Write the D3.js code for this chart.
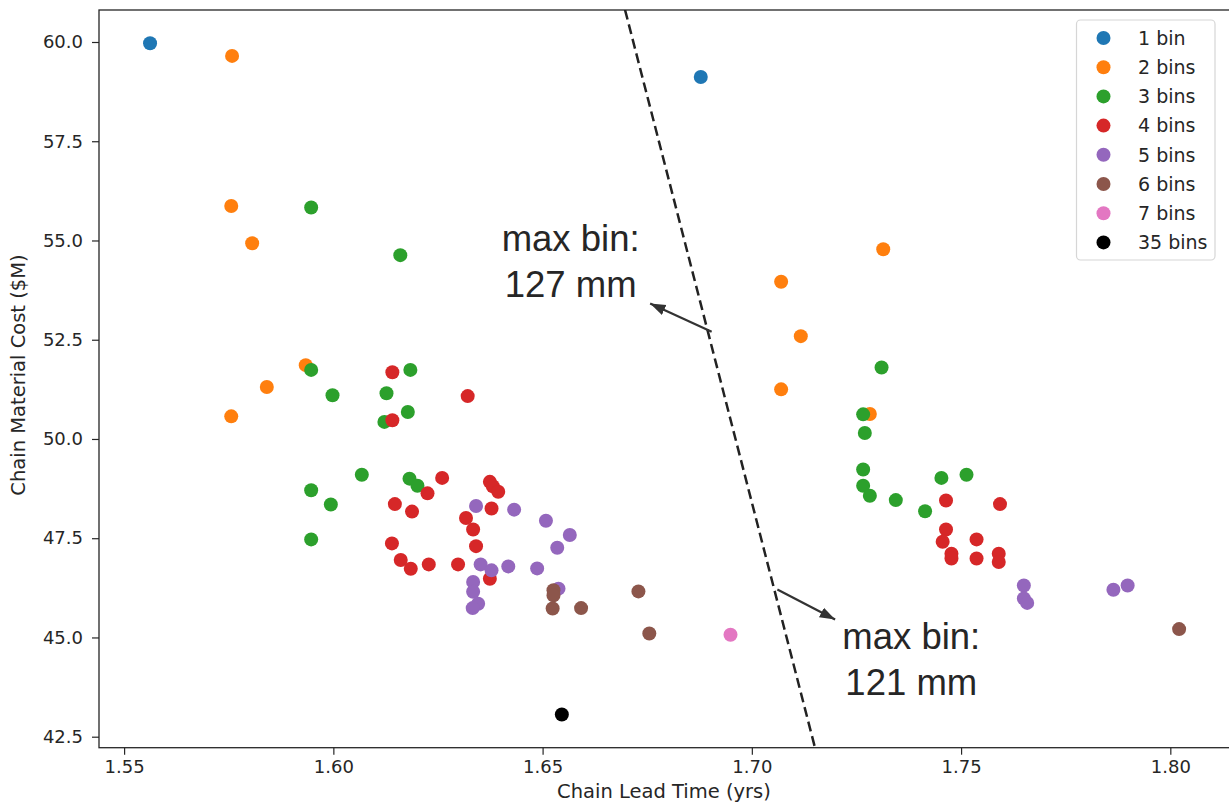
<!DOCTYPE html>
<html>
<head>
<meta charset="utf-8">
<script src="https://cdn.jsdelivr.net/npm/d3@7"></script>
<style>
  html, body { margin: 0; padding: 0; background: #fff; }
  svg { display: block; }
  .tick text { font-family: "DejaVu Sans", sans-serif; font-size: 18px; fill: #262626; }
</style>
</head>
<body>
<svg id="chart" width="1229" height="809"></svg>
<script>
// Chain lead time (yrs) vs chain material cost ($M), grouped by number of bins
const seriesLabels = ["1 bin", "2 bins", "3 bins", "4 bins", "5 bins", "6 bins", "7 bins", "35 bins"];
const seriesColors = ["#1f77b4", "#ff7f0e", "#2ca02c", "#d62728", "#9467bd", "#8c564b", "#e377c2", "#000000"];

const bins1 = [[1.5562, 59.97], [1.6878, 59.12]];
const bins2 = [
  [1.5758, 59.65], [1.5756, 55.87], [1.5806, 54.93], [1.5934, 51.86], [1.5841, 51.31],
  [1.5756, 50.57], [1.7314, 54.78], [1.7070, 53.96], [1.7117, 52.59], [1.7070, 51.25],
  [1.7282, 50.63]
];
const bins3 = [
  [1.5947, 55.83], [1.6160, 54.63], [1.5947, 51.74], [1.5998, 51.10], [1.6127, 51.15],
  [1.6184, 51.74], [1.6178, 50.68], [1.6122, 50.43], [1.6068, 49.10], [1.5947, 48.71],
  [1.5994, 48.35], [1.5947, 47.47], [1.6182, 49.00], [1.6201, 48.82],
  [1.7310, 51.80], [1.7266, 50.62], [1.7270, 50.15], [1.7266, 49.23], [1.7266, 48.82],
  [1.7282, 48.57], [1.7344, 48.46], [1.7414, 48.18], [1.7453, 49.02], [1.7513, 49.10]
];
const bins4 = [
  [1.6141, 51.68], [1.6321, 51.08], [1.6141, 50.47], [1.6260, 49.02], [1.6225, 48.63],
  [1.6147, 48.36], [1.6188, 48.17], [1.6140, 47.37], [1.6161, 46.95], [1.6185, 46.73],
  [1.6228, 46.84], [1.6298, 46.84], [1.6374, 48.92], [1.6381, 48.81], [1.6394, 48.67],
  [1.6378, 48.25], [1.6317, 48.01], [1.6334, 47.72], [1.6341, 47.30], [1.6374, 46.48],
  [1.7464, 48.45], [1.7593, 48.36], [1.7464, 47.72], [1.7456, 47.41], [1.7537, 47.47],
  [1.7477, 47.11], [1.7477, 46.99], [1.7537, 46.99], [1.7590, 47.11], [1.7590, 46.90]
];
const bins5 = [
  [1.6341, 48.31], [1.6432, 48.22], [1.6508, 47.94], [1.6565, 47.58], [1.6535, 47.26],
  [1.6352, 46.84], [1.6378, 46.69], [1.6418, 46.79], [1.6487, 46.74], [1.6334, 46.40],
  [1.6334, 46.15], [1.6346, 45.85], [1.6333, 45.74], [1.6538, 46.23],
  [1.7650, 46.31], [1.7650, 45.98], [1.7658, 45.87], [1.7864, 46.20], [1.7898, 46.31]
];
const bins6 = [
  [1.6526, 46.19], [1.6526, 46.06], [1.6524, 45.73], [1.6592, 45.74], [1.6729, 46.16],
  [1.6755, 45.10], [1.8021, 45.21]
];
const bins7 = [[1.6949, 45.07]];
const bins35 = [[1.6546, 43.06]];

const xTicks = [1.55, 1.60, 1.65, 1.70, 1.75, 1.80];
const yTicks = [42.5, 45.0, 47.5, 50.0, 52.5, 55.0, 57.5, 60.0];

// Dashed boundary between the 127 mm and 121 mm max-bin regions
const boundary = [[1.6697, 60.81], [1.7151, 42.22]];
// Annotations: text anchor, arrow tail (on boundary) and arrow head
const annotations = [
  { lines: ["max bin:", "127 mm"], text: [1.6567, 54.73], from: [1.6904, 52.70], to: [1.6757, 53.41] },
  { lines: ["max bin:", "121 mm"], text: [1.7381, 44.70], from: [1.7061, 46.21], to: [1.7199, 45.45] }
];

const allSeries = [bins1, bins2, bins3, bins4, bins5, bins6, bins7, bins35];

const svg = d3.select("#chart");
const plotLeft = 99, plotTop = 10, plotRight = 1231, plotBottom = 747.7;

const x = d3.scaleLinear().domain([1.544, 1.8145]).range([plotLeft, plotRight]);
const y = d3.scaleLinear().domain([42.223, 60.806]).range([plotBottom, plotTop]);

const defs = svg.append("defs");
defs.append("clipPath").attr("id", "plotClip")
  .append("rect").attr("x", plotLeft).attr("y", plotTop)
  .attr("width", plotRight - plotLeft).attr("height", plotBottom - plotTop);

// Axes
const xAxis = svg.append("g").attr("transform", `translate(0,${plotBottom})`)
  .call(d3.axisBottom(x).tickValues(xTicks).tickFormat(d3.format(".2f")).tickSizeOuter(0).tickSize(7).tickPadding(6));
const yAxis = svg.append("g").attr("transform", `translate(${plotLeft},0)`)
  .call(d3.axisLeft(y).tickValues(yTicks).tickFormat(d3.format(".1f")).tickSizeOuter(0).tickSize(7).tickPadding(9));
[xAxis, yAxis].forEach(g => {
  g.select(".domain").remove();
  g.selectAll(".tick line").attr("stroke", "#262626").attr("stroke-width", 1.2);
});

// Frame
svg.append("rect").attr("x", plotLeft).attr("y", plotTop)
  .attr("width", plotRight - plotLeft).attr("height", plotBottom - plotTop)
  .attr("fill", "none").attr("stroke", "#262626").attr("stroke-width", 1.3);

// Scatter points
const plot = svg.append("g").attr("clip-path", "url(#plotClip)");
allSeries.forEach((pts, i) => {
  plot.append("g").selectAll("circle").data(pts).join("circle")
    .attr("cx", d => x(d[0])).attr("cy", d => y(d[1])).attr("r", 7)
    .attr("fill", seriesColors[i]);
});

// Boundary line
plot.append("line")
  .attr("x1", x(boundary[0][0])).attr("y1", y(boundary[0][1]))
  .attr("x2", x(boundary[1][0])).attr("y2", y(boundary[1][1]))
  .attr("stroke", "#222").attr("stroke-width", 2.5).attr("stroke-dasharray", "10,5");

// Arrow heads
defs.append("marker").attr("id", "arrowHead")
  .attr("viewBox", "0 0 10 10").attr("refX", 10).attr("refY", 5)
  .attr("markerWidth", 7).attr("markerHeight", 7).attr("markerUnits", "strokeWidth")
  .attr("orient", "auto")
  .append("path").attr("d", "M0,1.5 L10,5 L0,8.5 Z").attr("fill", "#333");

annotations.forEach(a => {
  svg.append("line")
    .attr("x1", x(a.from[0])).attr("y1", y(a.from[1]))
    .attr("x2", x(a.to[0])).attr("y2", y(a.to[1]))
    .attr("stroke", "#333").attr("stroke-width", 2.2)
    .attr("marker-end", "url(#arrowHead)");
  const t = svg.append("text")
    .attr("x", x(a.text[0])).attr("y", y(a.text[1]))
    .attr("text-anchor", "middle")
    .attr("font-family", "Liberation Sans, Arial, sans-serif")
    .attr("font-size", 36.5).attr("fill", "#262626");
  a.lines.forEach((ln, k) => {
    t.append("tspan").attr("x", x(a.text[0])).attr("dy", k === 0 ? 0 : 46).text(ln);
  });
});

// Legend
const lg = svg.append("g");
lg.append("rect").attr("x", 1076.5).attr("y", 20).attr("width", 138.5).attr("height", 240)
  .attr("rx", 4).attr("fill", "#fff").attr("fill-opacity", 0.8)
  .attr("stroke", "#d6d6d6").attr("stroke-width", 1.2);
seriesLabels.forEach((lab, i) => {
  const cy = 38 + i * 29.2;
  lg.append("circle").attr("cx", 1103.5).attr("cy", cy).attr("r", 7).attr("fill", seriesColors[i]);
  lg.append("text").attr("x", 1138).attr("y", cy).attr("dy", "0.36em")
    .attr("font-family", "DejaVu Sans, sans-serif").attr("font-size", 19).attr("fill", "#262626")
    .text(lab);
});

// Axis titles
svg.append("text").attr("x", (plotLeft + 1229) / 2).attr("y", 798)
  .attr("text-anchor", "middle").attr("font-family", "DejaVu Sans, sans-serif")
  .attr("font-size", 19.5).attr("fill", "#262626").text("Chain Lead Time (yrs)");
svg.append("text").attr("transform", "translate(25,375) rotate(-90)")
  .attr("text-anchor", "middle").attr("font-family", "DejaVu Sans, sans-serif")
  .attr("font-size", 19.5).attr("fill", "#262626").text("Chain Material Cost ($M)");
</script>
</body>
</html>
